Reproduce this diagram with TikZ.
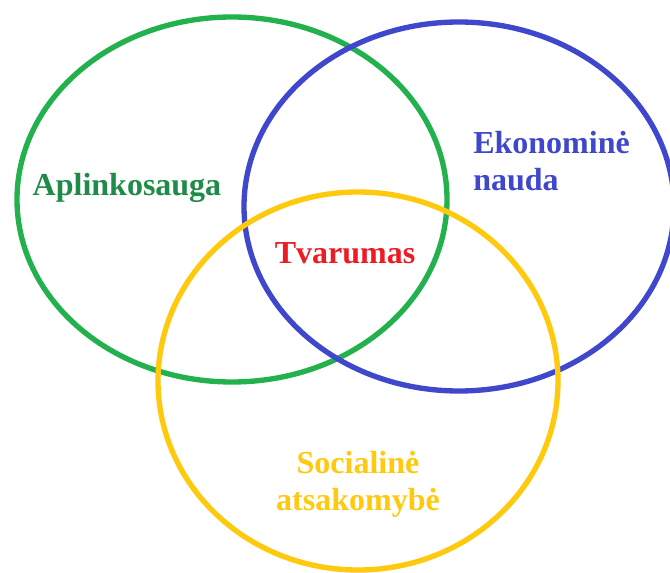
\documentclass[tikz,border=0pt]{standalone}
\usepackage{fontspec}
\setmainfont{Liberation Serif}
\definecolor{ringgreen}{RGB}{34,177,76}
\definecolor{ringblue}{RGB}{63,72,204}
\definecolor{ringyellow}{RGB}{255,201,14}
\definecolor{textgreen}{RGB}{30,140,72}
\definecolor{textred}{RGB}{237,28,36}
\begin{document}
\begin{tikzpicture}[x=0.75pt,y=-0.75pt,
  ring/.style={line width=4pt},
  label/.style={font=\fontsize{24}{27.5}\selectfont\bfseries, inner sep=0pt}]
\useasboundingbox (0,0) rectangle (670,573);
\fill[white] (0,0) rectangle (670,573);
% three overlapping areas
\draw[ring, ringgreen]  (232,199.5) ellipse [x radius=215, y radius=182.5];
\draw[ring, ringblue]   (459,206.5) ellipse [x radius=215, y radius=184.5];
\draw[ring, ringyellow] (358,381)   ellipse [x radius=200, y radius=189];
% labels
\node[label, textgreen] (env) at (127,188) {Aplinkosauga};
\node[label, ringblue, align=left, anchor=north west] (eco) at (473,131) {Ekonominė\\nauda};
\node[label, textred] (sus) at (345,253) {Tvarumas};
\node[label, ringyellow, align=center, anchor=north] (soc) at (358,451) {Socialinė\\atsakomybė};
\end{tikzpicture}
\end{document}
